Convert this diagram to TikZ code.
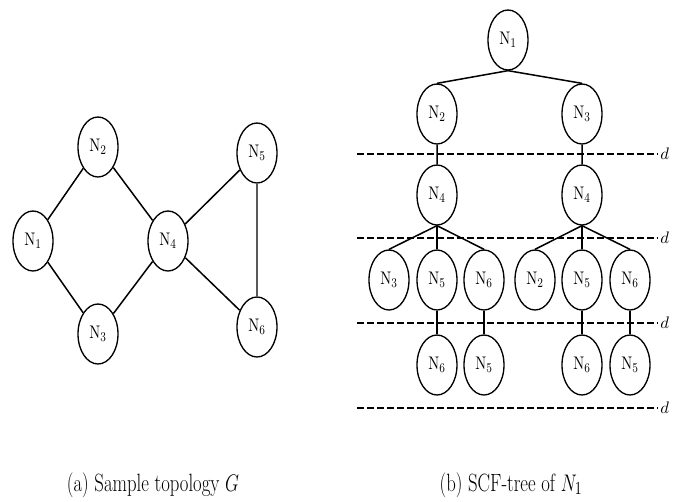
\documentclass[tikz,border=0pt]{standalone}
\usetikzlibrary{shapes.geometric}

\tikzset{
  vtx/.style={draw, ellipse, line width=0.8pt, minimum width=24pt, minimum height=36pt, inner sep=0pt},
  lnk/.style={line width=0.9pt},
  lvl/.style={line width=0.8pt, dash pattern=on 4pt off 2pt},
}
\newcommand{\nd}[1]{\scalebox{0.8}[1]{\fontsize{11}{13}\selectfont$\mathrm{N}_{#1}$}}
\newcommand{\captxt}[1]{\scalebox{0.75}[1]{\fontsize{15}{17}\selectfont #1}}

\begin{document}
\begin{tikzpicture}[x=0.6pt, y=-0.6pt]
    \useasboundingbox (0,0) rectangle (673,502);

    % Sample topology
    \node[vtx] (a1) at (33,241) {\nd1};
    \node[vtx] (a2) at (98,147) {\nd2};
    \node[vtx] (a3) at (98,334) {\nd3};
    \node[vtx] (a4) at (168,241) {\nd4};
    \node[vtx] (a5) at (257,153) {\nd5};
    \node[vtx] (a6) at (257,327) {\nd6};
    \draw[lnk] (a1) -- (a2) (a1) -- (a3) (a2) -- (a4) (a3) -- (a4)
               (a4) -- (a5) (a4) -- (a6);
    \draw[lnk, black!65] (a5) -- (a6);

    % Levels
    \foreach \y in {154,238,323,408}
    \draw[lvl] (357,\y) -- (658,\y) node[right, inner sep=1pt] {$d=$};

    % SCF-tree
    \node[vtx] (t1) at (508,40) {\nd1};
    \node[vtx] (t2) at (437,114) {\nd2};
    \node[vtx] (t3) at (582,114) {\nd3};
    \node[vtx] (t4) at (437,195) {\nd4};
    \node[vtx] (u4) at (582,195) {\nd4};
    \node[vtx] (t3b) at (389,280) {\nd3};
    \node[vtx] (t5) at (437,280) {\nd5};
    \node[vtx] (t6) at (484,280) {\nd6};
    \node[vtx] (u2) at (535,280) {\nd2};
    \node[vtx] (u5) at (582,280) {\nd5};
    \node[vtx] (u6) at (630,280) {\nd6};
    \node[vtx] (t56) at (437,365) {\nd6};
    \node[vtx] (t65) at (484,365) {\nd5};
    \node[vtx] (u56) at (582,365) {\nd6};
    \node[vtx] (u65) at (630,365) {\nd5};
    \draw[lnk] (t1.south) -- (t2.north) (t1.south) -- (t3.north)
               (t2) -- (t4) (t3) -- (u4);
    \foreach \c in {t3b,t5,t6}
    \draw[lnk] (t4.south) -- (\c.north);
    \foreach \c in {u2,u5,u6}
    \draw[lnk] (u4.south) -- (\c.north);
    \draw[lnk] (t5) -- (t56) (t6) -- (t65) (u5) -- (u56) (u6) -- (u65);

    % Captions
    \node (capa) at (153,485) {\captxt{(a) Sample topology $G$}};
    \node (capb) at (511,485) {\captxt{(b) SCF-tree of $N_1$}};

\end{tikzpicture}
\end{document}
